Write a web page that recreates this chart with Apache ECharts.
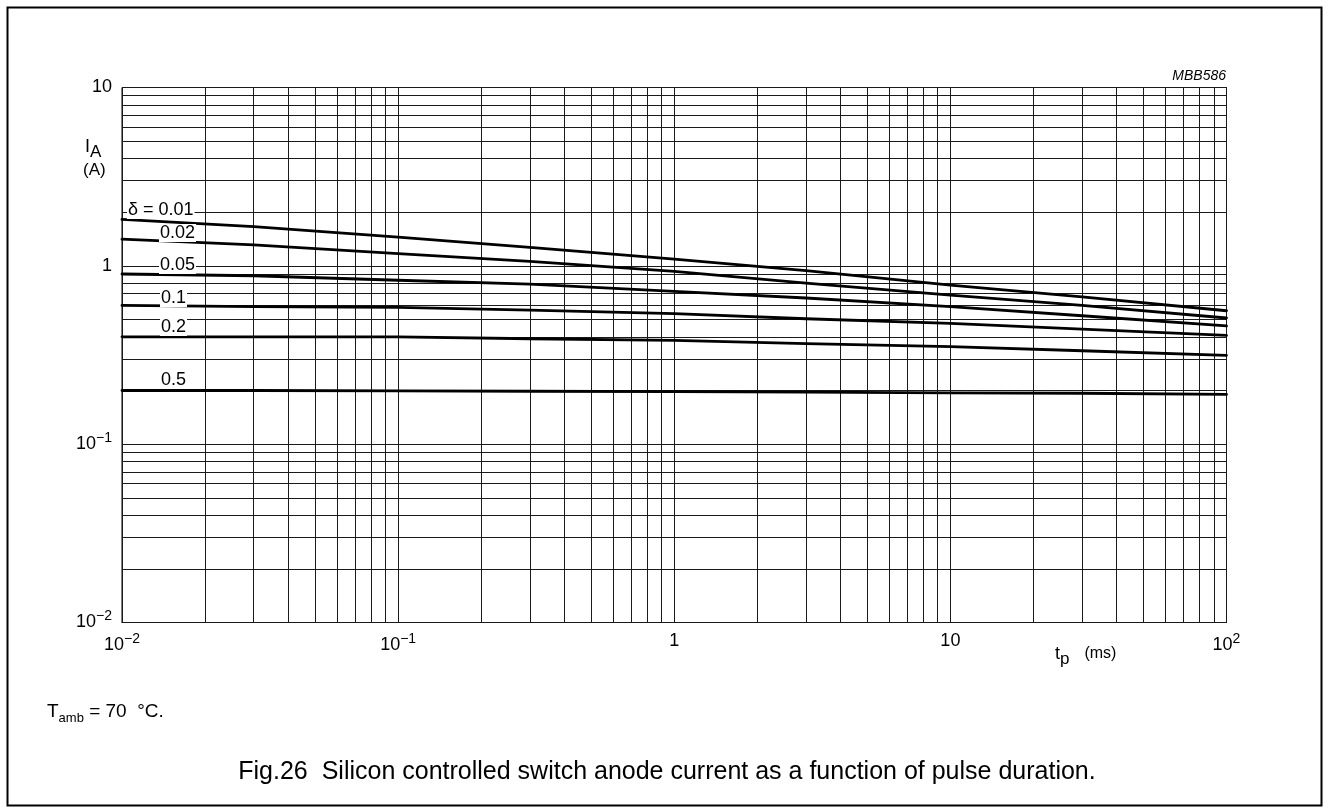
<!DOCTYPE html>
<html>
<head>
<meta charset="utf-8">
<script src="https://cdn.jsdelivr.net/npm/echarts@6/dist/echarts.min.js"></script>
<style>
html,body{margin:0;padding:0;background:#fff;}
#chart{width:1329px;height:812px;}
</style>
</head>
<body>
<div id="chart"></div>
<script>
// pulse duration tp (ms)
var tp = [0.01, 0.03, 0.1, 0.3, 1, 3, 10, 30, 100];
// anode current IA (A) per duty factor delta
var d001 = [1.82, 1.66, 1.45, 1.27, 1.09, 0.94, 0.78, 0.67, 0.56];
var d002 = [1.41, 1.31, 1.17, 1.06, 0.93, 0.80, 0.685, 0.60, 0.51];
var d005 = [0.90, 0.88, 0.83, 0.79, 0.72, 0.66, 0.59, 0.525, 0.46];
var d01  = [0.60, 0.59, 0.585, 0.565, 0.54, 0.505, 0.476, 0.442, 0.407];
var d02  = [0.40, 0.40, 0.40, 0.39, 0.382, 0.366, 0.352, 0.334, 0.315];
var d05  = [0.20, 0.20, 0.199, 0.198, 0.197, 0.196, 0.194, 0.193, 0.19];
var deltaNames = ['0.01', '0.02', '0.05', '0.1', '0.2', '0.5'];
var xDecades = [-2, -1, 0, 1, 2];
var yDecades = [-2, -1, 0, 1];

var FONT = "'Liberation Sans', Arial, Helvetica, sans-serif";

function gridValues(decs) {
  var out = [];
  for (var i = 0; i < decs.length - 1; i++) {
    for (var m = 1; m <= 9; m++) out.push(m * Math.pow(10, decs[i]));
  }
  out.push(Math.pow(10, decs[decs.length - 1]));
  return out;
}
var xGrid = gridValues(xDecades);
var yGrid = gridValues(yDecades);

function pow10Label(v) {
  var e = Math.round(Math.log(v) / Math.LN10);
  if (e === 0) return '{b|1}';
  if (e === 1) return '{b|10}';
  var s = e < 0 ? '\u2212' + (-e) : String(e);
  return '{b|10}{s|' + s + '}';
}
var labelRich = {
  b: { fontSize: 18, fontFamily: FONT, color: '#000' },
  s: { fontSize: 14, fontFamily: FONT, color: '#000', padding: [0, 0, 12, 0] }
};

function pairs(arr) { return tp.map(function (t, i) { return [t, arr[i]]; }); }
var allCurves = [d001, d002, d005, d01, d02, d05];

var series = allCurves.map(function (arr, i) {
  return {
    name: deltaNames[i],
    type: 'line',
    data: pairs(arr),
    showSymbol: false,
    smooth: false,
    lineStyle: { color: '#000', width: 2.8, join: 'round', cap: 'round' },
    itemStyle: { color: '#000' },
    z: 5
  };
});
series.push({
  type: 'line',
  data: [],
  silent: true,
  z: 1,
  markLine: {
    silent: true,
    symbol: 'none',
    animation: false,
    label: { show: false },
    lineStyle: { color: '#1a1a1a', width: 1, type: 'solid' },
    data: xGrid.map(function (v) { return { xAxis: v }; })
      .concat(yGrid.map(function (v) { return { yAxis: v }; }))
  }
});

var chart = echarts.init(document.getElementById('chart'), null, { renderer: 'canvas' });

function txt(x, y, text, size, opts) {
  opts = opts || {};
  return {
    type: 'text',
    z: opts.z || 10,
    style: {
      x: x, y: y, text: text,
      font: (opts.italic ? 'italic ' : '') + size + 'px ' + FONT,
      fill: '#000',
      textAlign: opts.align || 'left',
      textVerticalAlign: 'middle',
      rich: opts.rich,
      backgroundColor: opts.bg,
      padding: opts.pad
    }
  };
}

var curveLabelPos = [
  [127, 210], [159, 233], [159, 265], [160, 298], [160, 327], [160, 380]
];
var curveLabels = deltaNames.map(function (n, i) {
  var t = (i === 0 ? '\u03b4 = ' : '') + n;
  return txt(curveLabelPos[i][0], curveLabelPos[i][1], t, 18, { bg: '#fff', pad: [0, 1, 0, 1], z: 20 });
});

chart.setOption({
  animation: false,
  backgroundColor: '#fff',
  grid: {
    left: 122, right: 102.5, top: 87.5, bottom: 189.5,
    show: true, borderColor: '#000', borderWidth: 1
  },
  xAxis: {
    type: 'log', logBase: 10, min: 0.01, max: 100,
    axisLine: { show: true, lineStyle: { color: '#000', width: 1 } },
    axisTick: { show: false },
    splitLine: { show: false },
    axisLabel: { margin: 10, formatter: pow10Label, rich: labelRich, color: '#000' }
  },
  yAxis: {
    type: 'log', logBase: 10, min: 0.01, max: 10,
    axisLine: { show: true, lineStyle: { color: '#000', width: 1 } },
    axisTick: { show: false },
    splitLine: { show: false },
    axisLabel: { margin: 10, formatter: pow10Label, rich: labelRich, color: '#000' }
  },
  series: series,
  graphic: [
    {
      type: 'rect', z: 0, silent: true,
      shape: { x: 7.5, y: 7.5, width: 1314, height: 798 },
      style: { fill: 'none', stroke: '#000', lineWidth: 2 }
    },
    txt(1226, 76, 'MBB586', 14, { italic: true, align: 'right' }),
    txt(85, 147, '{a|I}{b|A}', 18, {
      rich: { a: { fontSize: 18, fontFamily: FONT }, b: { fontSize: 17, fontFamily: FONT, padding: [10, 0, 0, 0] } }
    }),
    txt(83, 170, '(A)', 17),
    txt(1055, 654, '{a|t}{b|p}{c|(ms)}', 18, {
      rich: {
        a: { fontSize: 18, fontFamily: FONT },
        b: { fontSize: 17, fontFamily: FONT, padding: [10, 0, 0, 0] },
        c: { fontSize: 16, fontFamily: FONT, padding: [0, 0, 0, 15] }
      }
    }),
    txt(47, 712, '{a|T}{b|amb}{a| = 70  \u00b0C.}', 19, {
      rich: {
        a: { fontSize: 19, fontFamily: FONT },
        b: { fontSize: 13, fontFamily: FONT, padding: [12, 0, 0, 0] }
      }
    }),
    txt(667, 772, 'Fig.26  Silicon controlled switch anode current as a function of pulse duration.', 25, { align: 'center' })
  ].concat(curveLabels)
});
</script>
</body>
</html>
